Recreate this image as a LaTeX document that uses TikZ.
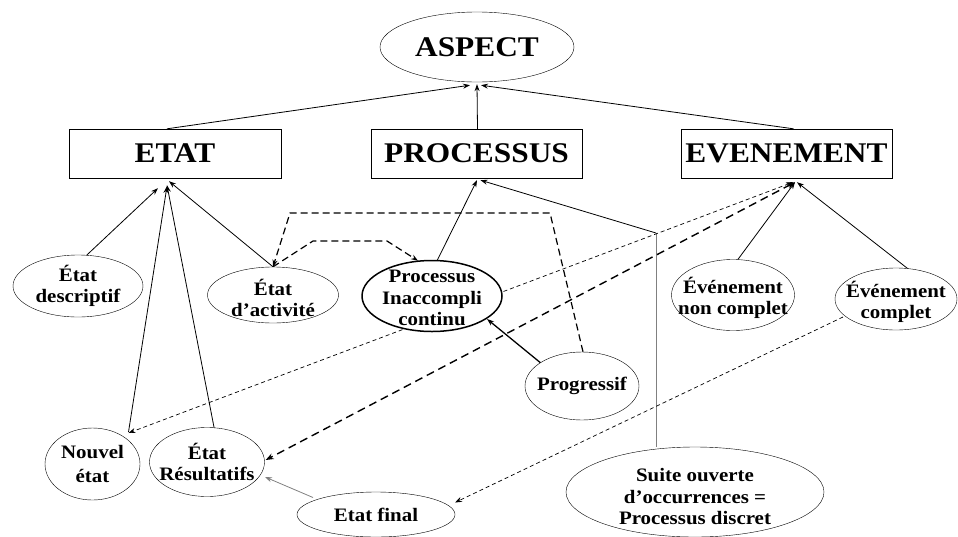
\documentclass[tikz,border=0pt]{standalone}
\usepackage{fontspec}
\setmainfont{Liberation Serif}[FakeStretch=1.1]
\usetikzlibrary{shapes.geometric,arrows.meta,calc,backgrounds}
\begin{document}
\begin{tikzpicture}[x=1pt,y=-1pt,
  font=\bfseries,
  tip/.style={-{Stealth[length=7pt,width=5pt]}},
  bigtxt/.style={font=\fontsize{28.5}{30}\selectfont\bfseries},
  box/.style={draw,rectangle,minimum width=212pt,minimum height=49pt,inner sep=0pt,fill=white,bigtxt},
  el/.style={draw,ellipse,inner sep=0pt,fill=white},
  lab/.style={align=center,font=\fontsize{19}{21.5}\selectfont\bfseries},
  thindash/.style={dash pattern=on 4pt off 3pt,line width=0.7pt},
  thickdash/.style={dash pattern=on 8pt off 5pt,line width=1.4pt},
  middash/.style={dash pattern=on 7pt off 4pt,line width=1.2pt},
  conn/.style={line width=0.8pt}
]
\useasboundingbox (0,0) rectangle (958,536);

% top node
\node[el,minimum width=194pt,minimum height=70pt,bigtxt] (aspect) at (477,47) {ASPECT};

% boxes
\node[box] (etat) at (175,153.5) {ETAT};
\node[box,minimum width=211pt] (procb) at (476.5,153.5) {PROCESSUS};
\node[box,minimum width=211pt] (evt) at (786.5,153.5) {EVENEMENT};

% ellipses
\node[el,minimum width=130pt,minimum height=62pt,label={[lab]center:État\\descriptif}] (desc) at (78,286) {};
\node[el,minimum width=131pt,minimum height=56pt,label={[lab,yshift=-3pt]center:État\\d’activité}] (activ) at (273,295) {};
\node[el,line width=1.5pt,minimum width=140pt,minimum height=71pt,label={[lab,yshift=-2pt]center:Processus\\Inaccompli\\continu}] (inacc) at (432,296) {};
\node[el,minimum width=114pt,minimum height=68pt,label={[lab]center:Progressif}] (progr) at (582,386) {};
\node[el,minimum width=123pt,minimum height=71pt,label={[lab,yshift=-3pt]center:Événement\\non complet}] (nonc) at (733,295) {};
\node[el,minimum width=122pt,minimum height=62pt,label={[lab,yshift=-3pt]center:Événement\\complet}] (compl) at (896,299) {};
\node[el,minimum width=95pt,minimum height=72pt,label={[lab,font=\fontsize{19}{24}\selectfont\bfseries]center:Nouvel\\état}] (nouvel) at (92.5,464) {};
\node[el,minimum width=115pt,minimum height=69pt,label={[lab]center:État\\Résultatifs}] (result) at (207,462) {};
\node[el,minimum width=158pt,minimum height=45pt,label={[lab]center:Etat final}] (final) at (376,514.5) {};
\node[el,minimum width=258pt,minimum height=90pt,label={[lab,yshift=-5pt]center:Suite ouverte\\d’occurrences =\\Processus discret}] (suite) at (695,492) {};

% corner coordinates
\coordinate (bend) at (656,233);
\coordinate (d1) at (550,213);
\coordinate (d2) at (290,213);
\coordinate (d3) at (313,241);
\coordinate (d4) at (387,241);

\begin{pgfonlayer}{background}
% to ASPECT
\draw[conn,tip] ($(etat.north)+(-8,0)$) -- ($(aspect.south)+(-7,3)$);
\draw[conn,tip] ($(procb.north)+(1,0)$) -- ($(aspect.south)+(0,2)$);
\draw[conn,tip] ($(evt.north)+(7,0)$) -- ($(aspect.south)+(4,3)$);
% to ETAT
\draw[conn,tip] ($(desc.north)+(8,1)$) -- ($(etat.south)+(-17,10)$);
\draw[conn,tip] ($(nouvel.center)+(36,-32)$) -- ($(etat.south)+(-8,8)$);
\draw[conn,tip] ($(result.north)+(8,5)$) -- ($(etat.south)+(-8,7)$);
\draw[conn,tip] (activ.north) -- ($(etat.south)+(-6,3)$);
% to PROCESSUS
\draw[conn,tip] ($(inacc.north)+(5,1)$) -- ($(procb.south)+(0.5,2)$);
\draw[conn,gray] (bend |- suite.north) -- (bend);
\draw[conn,tip] (bend) -- ($(procb.south)+(4,2)$);
\draw[line width=1.3pt,tip] ($(progr.center)+(-40,-22)$) -- ($(inacc.center)+(55,23)$);
% dashed paths between État d'activité and Processus
\draw[middash,tip] ($(progr.north)+(1,0)$) -- (d1) -- (d2) -- (activ.north);
\draw[middash,tip] (activ.north) -- (d3) -- (d4) -- ($(inacc.north)+(-14,1)$);
% to EVENEMENT
\draw[conn,tip] ($(nonc.north)+(5,0)$) -- ($(evt.south)+(8.5,4)$);
\draw[conn,tip] ($(compl.north)+(12,1)$) -- ($(evt.south)+(10.5,4)$);
\draw[thindash,{Stealth[length=7pt,width=5pt]}-{Stealth[length=7pt,width=5pt]}] ($(evt.south)+(6.5,4)$) -- ($(nouvel.center)+(36,-31)$);
\draw[thickdash,{Stealth[length=8pt,width=6pt]}-{Stealth[length=8pt,width=6pt]}] ($(evt.south)+(8.5,4)$) -- ($(result.east)+(1,-2)$);
\draw[thindash,tip] ($(compl.center)+(-53,18)$) -- ($(final.center)+(79,-12)$);
\draw[conn,gray,tip] ($(final.center)+(-63,-17)$) -- ($(result.center)+(58,15)$);
\end{pgfonlayer}
\end{tikzpicture}
\end{document}
